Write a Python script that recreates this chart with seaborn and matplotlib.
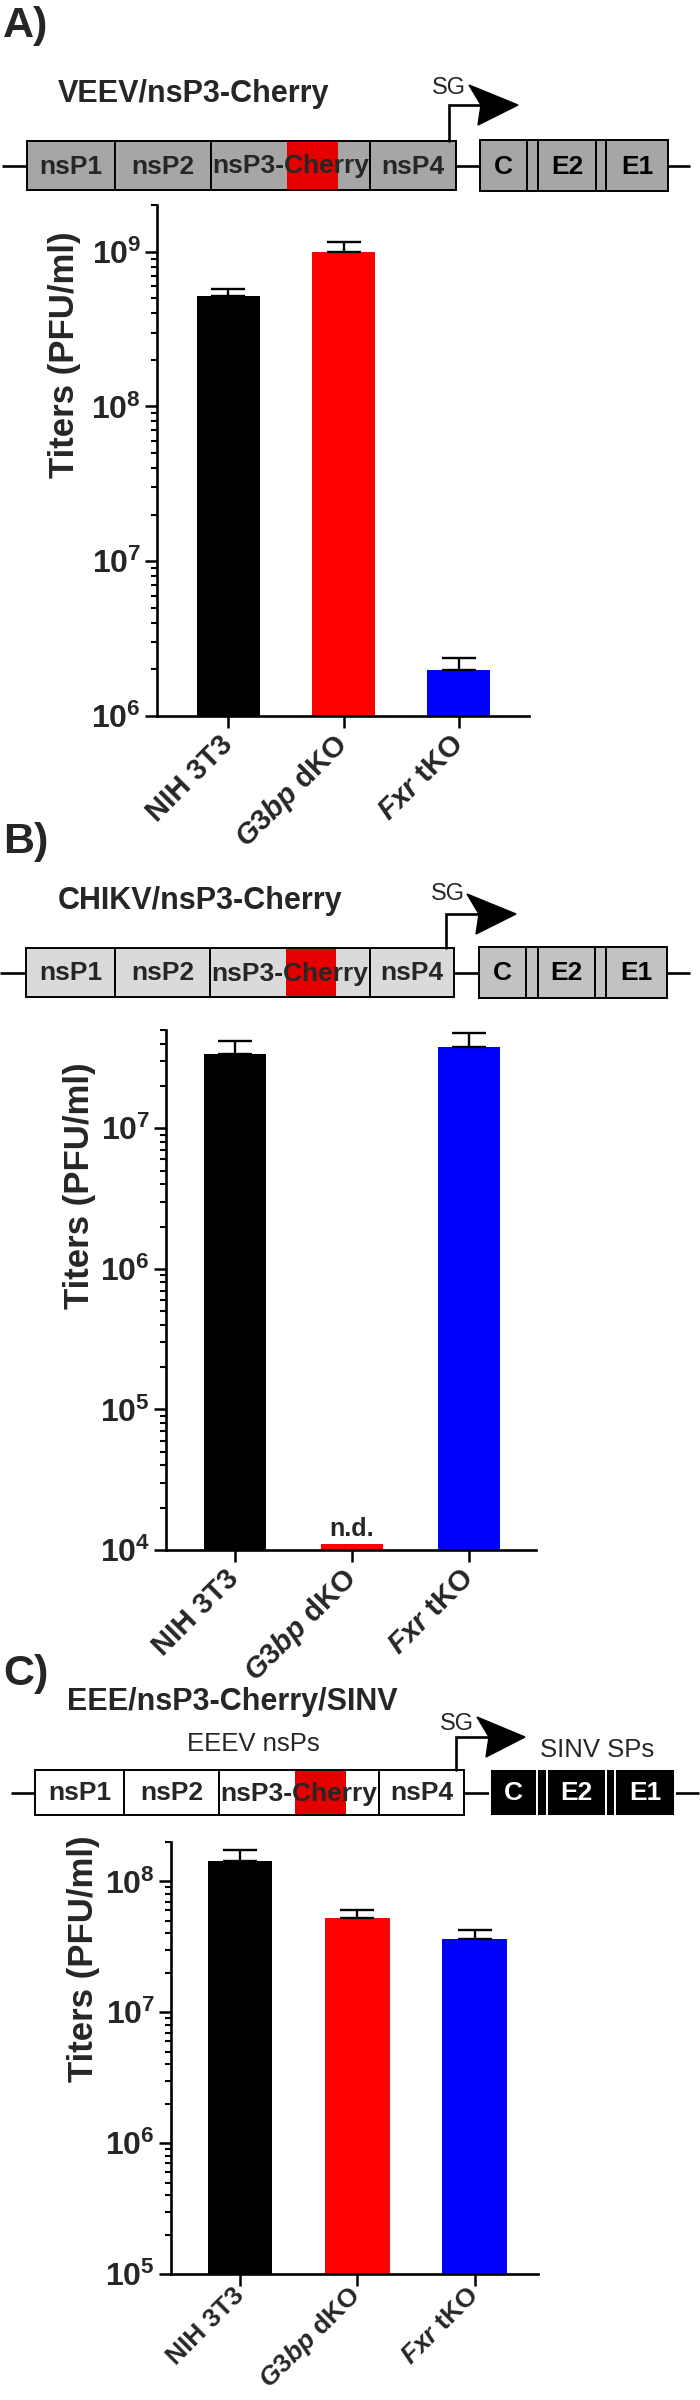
import numpy as np
import pandas as pd
import matplotlib
matplotlib.use("Agg")
import matplotlib.pyplot as plt
import seaborn as sns
from matplotlib.patches import Rectangle, Polygon
from matplotlib.ticker import LogLocator, NullFormatter, FixedLocator

sns.set_theme(style="ticks")
plt.rcParams["font.family"] = ["Liberation Sans", "DejaVu Sans"]
plt.rcParams["mathtext.fontset"] = "custom"
plt.rcParams["mathtext.rm"] = "Liberation Sans:bold"
plt.rcParams["mathtext.bf"] = "Liberation Sans:bold"
plt.rcParams["mathtext.it"] = "Liberation Sans:italic:bold"

# ---------------- data ----------------
cell_lines = ["NIH 3T3", "G3bp dKO", "Fxr tKO"]
tick_labels = ["NIH 3T3", r"$\mathit{G3bp}$ dKO", r"$\mathit{Fxr}$ tKO"]
bar_colors = ["#000000", "#ff0000", "#0000ff"]

veev_titers = [5.2e8, 1.0e9, 1.97e6]
veev_upper = [5.7e8, 1.16e9, 2.37e6]
chikv_titers = [3.35e7, 1.1e4, 3.8e7]
chikv_upper = [4.2e7, None, 4.74e7]
eee_titers = [1.43e8, 5.28e7, 3.64e7]
eee_upper = [1.75e8, 6.0e7, 4.24e7]

panel_letters = ["A)", "B)", "C)"]
panel_titles = ["VEEV/nsP3-Cherry", "CHIKV/nsP3-Cherry", "EEE/nsP3-Cherry/SINV"]
ns_genes = ["nsP1", "nsP2", "nsP3-Cherry", "nsP4"]
sp_genes = ["C", "", "E2", "", "E1"]
y_label = "Titers (PFU/ml)"

W, H = 700, 2400
fig = plt.figure(figsize=(7, 24), dpi=100)
fig.patch.set_facecolor("white")

ov = fig.add_axes([0, 0, 1, 1], zorder=0)
ov.set_xlim(0, W)
ov.set_ylim(H, 0)
ov.axis("off")


def draw_diagram(letter, letter_y, title, title_x, title_y, box_top, box_bot, ns_edges,
                 red_span, sp_edges, line_span, ns_fill, sp_fill, sp_txt, sg_x, sg_line_y,
                 base_x, tip_x, sg_txt_x, sg_txt_y):
    yc = (box_top + box_bot) / 2
    ov.text(3, letter_y, letter, fontsize=31, fontweight="bold", ha="left", va="top")
    ov.text(title_x, title_y, title, fontsize=22, fontweight="bold", ha="left",
            va="center")
    ov.plot(line_span, [yc, yc], color="black", lw=1.9, zorder=1, solid_capstyle="butt")
    for name, (x0, x1) in zip(ns_genes, ns_edges):
        ov.add_patch(Rectangle((x0, box_top), x1 - x0, box_bot - box_top, facecolor=ns_fill,
                               edgecolor="black", lw=1.4, zorder=2))
        if name == "nsP3-Cherry":
            ov.add_patch(Rectangle((red_span[0], box_top + 0.8), red_span[1] - red_span[0],
                                   box_bot - box_top - 1.6, facecolor="#e50000",
                                   edgecolor="none", zorder=3))
        ov.text((x0 + x1) / 2, yc + 1, name, fontsize=19, fontweight="bold", ha="center",
                va="center", zorder=4)
    ecol = "white" if sp_fill == "black" else "black"
    for name, (x0, x1) in zip(sp_genes, sp_edges):
        ov.add_patch(Rectangle((x0, box_top - 1), x1 - x0, box_bot - box_top + 2,
                               facecolor=sp_fill, edgecolor=ecol, lw=1.4, zorder=2))
        if name:
            ov.text((x0 + x1) / 2, yc + 1, name, fontsize=19, fontweight="bold",
                    ha="center", va="center", color=sp_txt, zorder=4)
    # SG promoter arrow
    ov.plot([sg_x, sg_x, base_x], [box_top, sg_line_y, sg_line_y], color="black", lw=1.9,
            zorder=3, solid_joinstyle="miter")
    ov.add_patch(Polygon([[base_x - 12, sg_line_y - 20], [tip_x, sg_line_y],
                          [base_x - 3, sg_line_y + 20], [base_x, sg_line_y]],
                         closed=True, facecolor="black", edgecolor="black", zorder=3))
    ov.text(sg_txt_x, sg_txt_y, "SG", fontsize=17, ha="center", va="center")


draw_diagram(panel_letters[0], 6, panel_titles[0], 58, 94, 141, 190,
             [(27, 115), (115, 211), (211, 370), (370, 456)], (287, 338),
             [(480, 527), (527, 538), (538, 596), (596, 606), (606, 668)], [2, 690],
             "#a6a6a6", "#a6a6a6", "black", 449, 105, 481, 518, 449, 88)
draw_diagram(panel_letters[1], 822, panel_titles[1], 58, 901, 948, 997,
             [(26, 115), (115, 210), (210, 370), (370, 454)], (286, 336),
             [(479, 526), (526, 538), (538, 595), (595, 606), (606, 667)], [0, 690],
             "#dadada", "#c2c2c2", "black", 446, 914, 479, 516, 448, 894)
draw_diagram(panel_letters[2], 1654, panel_titles[2], 67, 1702, 1770, 1815,
             [(35, 124), (124, 219), (219, 379), (379, 464)], (295, 346),
             [(490, 537), (537, 547), (547, 606), (606, 615), (615, 675)], [11, 699],
             "white", "black", "white", 456, 1737, 489, 525, 457, 1724)
ov.text(253, 1744, "EEEV nsPs", fontsize=18.5, ha="center", va="center")
ov.text(597, 1750, "SINV SPs", fontsize=18.5, ha="center", va="center")


def draw_chart(rect, values, uppers, ylim, yexps, xlim, width, label_xy, xfs=21, xpad=9):
    left, right, top, bottom = rect
    ax = fig.add_axes([left / W, 1 - bottom / H, (right - left) / W, (bottom - top) / H],
                      zorder=2)
    ax.set_facecolor("none")
    df = pd.DataFrame({"line": cell_lines, "titer": values})
    sns.barplot(data=df, x="line", y="titer", hue="line", palette=bar_colors,
                saturation=1, width=width, errorbar=None, legend=False, ax=ax,
                linewidth=0)
    ax.set_yscale("log")
    ax.set_ylim(*ylim)
    ax.set_xlim(*xlim)
    idx = [i for i, u in enumerate(uppers) if u is not None]
    vals = np.array([values[i] for i in idx])
    ups = np.array([uppers[i] for i in idx])
    ax.errorbar(idx, vals, yerr=[np.zeros(len(idx)), ups - vals], fmt="none",
                ecolor="black", elinewidth=1.7, capsize=12.5, capthick=1.7, zorder=1)
    ax.yaxis.set_major_locator(FixedLocator([10.0 ** e for e in yexps]))
    ax.set_yticklabels([r"$\mathbf{10^{%d}}$" % e for e in yexps], fontsize=23)
    ax.yaxis.set_minor_locator(LogLocator(base=10, subs=np.arange(2, 10)))
    ax.yaxis.set_minor_formatter(NullFormatter())
    ax.set_xticks(range(len(cell_lines)))
    ax.set_xticklabels(tick_labels, rotation=45, ha="right", va="center",
                       rotation_mode="anchor", fontsize=xfs, fontweight="bold")
    ax.tick_params(axis="both", which="major", length=8.5, width=1.8, color="black",
                   direction="out", left=True, bottom=True, pad=3)
    ax.tick_params(axis="x", pad=xpad)
    ax.tick_params(axis="y", which="minor", length=4.5, width=1.5, color="black",
                   left=True)
    for s in ("left", "bottom"):
        ax.spines[s].set_linewidth(1.9)
        ax.spines[s].set_color("black")
    sns.despine(ax=ax)
    ax.set_xlabel("")
    ax.set_ylabel(y_label, fontsize=25, fontweight="bold")
    ax.yaxis.set_label_coords(*label_xy)
    return ax


axA = draw_chart((157, 529, 205, 716), veev_titers, veev_upper, (1e6, 2e9), [6, 7, 8, 9],
                 (-0.62, 2.61), 0.55, (-0.203, 0.708))
axB = draw_chart((166, 536, 1030, 1550), chikv_titers, chikv_upper, (1e4, 5e7),
                 [4, 5, 6, 7], (-0.585, 2.57), 0.53, (-0.188, 0.70))
axB.text(1, 1.4e4, "n.d.", ha="center", va="center", fontsize=18, fontweight="bold")
axC = draw_chart((171, 538, 1842, 2274), eee_titers, eee_upper, (1e5, 2e8), [5, 6, 7, 8],
                 (-0.59, 2.54), 0.55, (-0.193, 0.73), xfs=19, xpad=4)

fig.savefig("out.png", dpi=100, facecolor="white")
